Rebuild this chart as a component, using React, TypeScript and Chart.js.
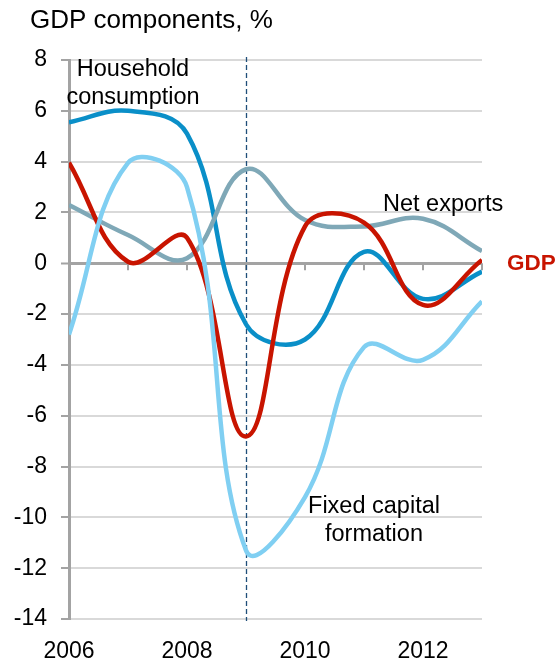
import React, { useEffect, useRef } from 'react';
import { Chart, registerables } from 'chart.js';

Chart.register(...registerables);

// ---- data ----
const years = [2006, 2007, 2008, 2009, 2010, 2011, 2012, 2013];
const xTickValues = [2006, 2008, 2010, 2012];
const yTickValues = [-14, -12, -10, -8, -6, -4, -2, 0, 2, 4, 6, 8];

const householdConsumption = [5.55, 6.0, 5.1, -2.4, -3.0, 0.45, -1.4, -0.33];
const fixedCapitalFormation = [-2.8, 3.95, 3.0, -11.3, -9.2, -3.3, -3.8, -1.5];
const netExports = [2.29, 1.11, 0.2, 3.7, 1.7, 1.45, 1.75, 0.48];
const gdp = [3.96, 0.06, 1.0, -6.82, 1.45, 1.6, -1.64, 0.13];

const markerYear = 2009;
const chartTitle = 'GDP components, %';
const householdLabel = ['Household', 'consumption'];
const netExportsLabel = ['Net exports'];
const gdpLabel = ['GDP'];
const fixedCapitalLabel = ['Fixed capital', 'formation'];

// ---- styles ----
const FONT = '"Liberation Sans", Arial, Helvetica, sans-serif';
const C_HOUSE = '#0a8fc8';
const C_FIXED = '#80cff2';
const C_NET = '#7fa8b7';
const C_GDP = '#c81400';
const C_AXIS = '#a3a3a3';
const C_GRID = '#d9d9d9';

const toPoints = (vals: number[]) => vals.map((v, i) => ({ x: years[i], y: v }));

const overlayPlugin = {
  id: 'overlay',
  beforeDatasetsDraw(chart: any) {
    const { ctx, chartArea, scales } = chart;
    const x = scales.x;
    const y = scales.y;
    const y0 = y.getPixelForValue(0);
    ctx.save();
    ctx.strokeStyle = C_AXIS;
    ctx.lineWidth = 2;
    years.forEach((yr) => {
      if (yr === years[0]) return;
      const px = Math.round(x.getPixelForValue(yr));
      ctx.beginPath();
      ctx.moveTo(px, y0);
      ctx.lineTo(px, y0 + 7);
      ctx.stroke();
    });
    const mx = Math.round(x.getPixelForValue(markerYear)) + 0.5;
    ctx.setLineDash([5, 3]);
    ctx.strokeStyle = '#1f4e79';
    ctx.lineWidth = 1.3;
    ctx.beginPath();
    ctx.moveTo(mx, chartArea.top - 3);
    ctx.lineTo(mx, chartArea.bottom + 2);
    ctx.stroke();
    ctx.restore();
  },
  afterDraw(chart: any) {
    const { ctx } = chart;
    ctx.save();
    ctx.textBaseline = 'alphabetic';
    ctx.fillStyle = '#000';
    ctx.font = `26px ${FONT}`;
    ctx.textAlign = 'left';
    ctx.fillText(chartTitle, 30, 28);

    ctx.font = `23.5px ${FONT}`;
    ctx.textAlign = 'center';
    ctx.fillText(householdLabel[0], 133, 76);
    ctx.fillText(householdLabel[1], 133, 104);
    ctx.fillText(fixedCapitalLabel[0], 374, 513);
    ctx.fillText(fixedCapitalLabel[1], 374, 541);
    ctx.textAlign = 'left';
    ctx.fillText(netExportsLabel[0], 383, 211);

    ctx.font = `bold 22.5px ${FONT}`;
    ctx.fillStyle = C_GDP;
    ctx.fillText(gdpLabel[0], 507, 270);
    ctx.restore();
  },
};

export default function App() {
  const ref = useRef<HTMLCanvasElement | null>(null);

  useEffect(() => {
    if (!ref.current) return;
    const lineDs = (label: string, vals: number[], color: string) => ({
      label,
      data: toPoints(vals),
      borderColor: color,
      backgroundColor: color,
      borderWidth: 4.5,
      pointRadius: 0,
      pointHoverRadius: 0,
      tension: 0.4,
      fill: false,
    });
    const chart = new Chart(ref.current, {
      type: 'line',
      data: {
        datasets: [
          lineDs('Fixed capital formation', fixedCapitalFormation, C_FIXED),
          lineDs('GDP', gdp, C_GDP),
          lineDs('Net exports', netExports, C_NET),
          lineDs('Household consumption', householdConsumption, C_HOUSE),
        ],
      },
      options: {
        responsive: false,
        animation: false,
        devicePixelRatio: 1,
        layout: { padding: { top: 60, right: 74, bottom: 0, left: 0 } },
        plugins: {
          legend: { display: false },
          tooltip: { enabled: false },
          title: { display: false },
        },
        scales: {
          x: {
            type: 'linear',
            min: years[0],
            max: years[years.length - 1],
            afterBuildTicks: (s: any) => {
              s.ticks = xTickValues.map((v) => ({ value: v }));
            },
            afterFit: (s: any) => {
              s.height = 43;
            },
            grid: { display: false, drawTicks: false },
            border: { display: false },
            ticks: {
              color: '#000',
              font: { family: FONT, size: 23 },
              padding: 19,
              maxRotation: 0,
              autoSkip: false,
              callback: (v: any) => String(v),
            },
          },
          y: {
            type: 'linear',
            min: yTickValues[0],
            max: yTickValues[yTickValues.length - 1],
            afterBuildTicks: (s: any) => {
              s.ticks = yTickValues.map((v) => ({ value: v }));
            },
            afterFit: (s: any) => {
              s.width = 69;
            },
            grid: {
              color: (c: any) => (c.tick && c.tick.value === 0 ? C_AXIS : C_GRID),
              lineWidth: (c: any) => (c.tick && c.tick.value === 0 ? 3 : 2),
              tickColor: C_AXIS,
              tickLength: 8,
              tickWidth: 2,
              drawTicks: true,
            },
            border: { display: true, color: C_AXIS, width: 3 },
            ticks: {
              color: '#000',
              font: { family: FONT, size: 23 },
              padding: 14,
              autoSkip: false,
              callback: (v: any) => String(v),
            },
          },
        },
      },
      plugins: [overlayPlugin],
    });
    return () => chart.destroy();
  }, []);

  return (
    <div style={{ position: 'fixed', left: 0, top: 0, width: 556, height: 662, background: '#fff' }}>
      <canvas ref={ref} width={556} height={662} style={{ width: 556, height: 662, display: 'block' }} />
    </div>
  );
}
